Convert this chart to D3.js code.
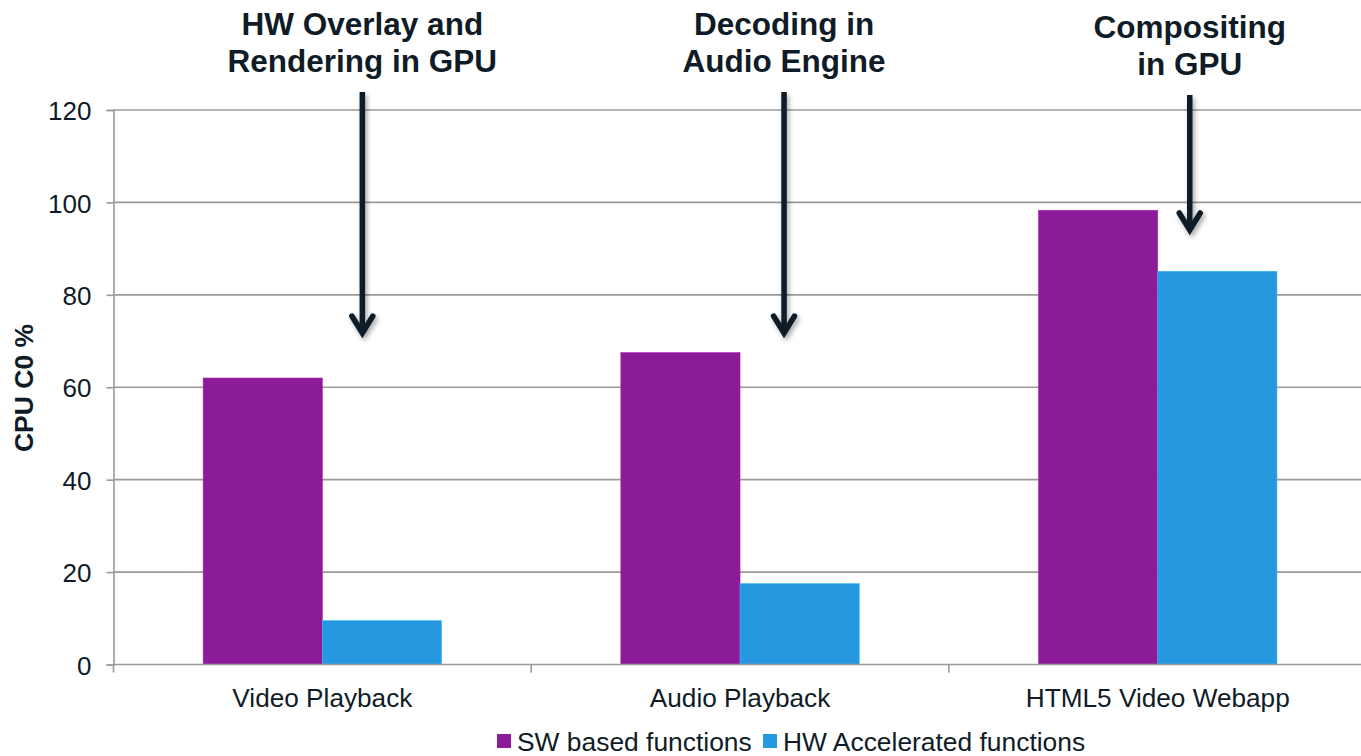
<!DOCTYPE html>
<html>
<head>
<meta charset="utf-8">
<script src="https://cdn.jsdelivr.net/npm/d3@7"></script>
<style>
  html, body { margin: 0; padding: 0; background: #fff; }
  svg { display: block; font-family: Arial, "Liberation Sans", sans-serif; }
</style>
</head>
<body>
<svg id="chart" width="1361" height="756"></svg>
<script>
// Workload categories and measured CPU C0 residency (%)
const categories = ["Video Playback", "Audio Playback", "HTML5 Video Webapp"];
const seriesNames = ["SW based functions", "HW Accelerated functions"];
const swValues = [62, 67.5, 98.3];
const hwValues = [9.5, 17.5, 85.1];
const seriesColors = ["#8B1B97", "#2698DF"];
const yTicks = [0, 20, 40, 60, 80, 100, 120];

// Callouts: label lines, offset from category centre, arrow tip value
const calloutLines = [
  ["HW Overlay and", "Rendering in GPU"],
  ["Decoding in", "Audio Engine"],
  ["Compositing", "in GPU"]
];
const calloutOffsets = [40, 44, 32];
const calloutTipValues = [71.3, 71.3, 93.6];
const calloutTextTop = [35, 35, 38];

const ink = "#0F1C27";
const gridColor = "#9A9A9A";

const svg = d3.select("#chart");
const plotLeft = 113.5, plotTop = 110, plotBottom = 664.5;
const bandW = 417.7;

const x = d3.scaleBand().domain(categories).range([plotLeft, plotLeft + bandW * 3]).padding(0);
const inner = d3.scaleBand().domain(seriesNames)
  .range([bandW * 0.2146, bandW * (1 - 0.2146)]).padding(0);
const y = d3.scaleLinear().domain([0, 120]).range([plotBottom, plotTop]);

// Horizontal gridlines
svg.append("g").selectAll("line").data(yTicks.filter(d => d > 0)).join("line")
  .attr("x1", plotLeft).attr("x2", 1361)
  .attr("y1", d => y(d)).attr("y2", d => y(d))
  .attr("stroke", gridColor).attr("stroke-width", 1.6);

// Y axis
const yAxis = svg.append("g").attr("transform", `translate(${plotLeft},0)`)
  .call(d3.axisLeft(y).tickValues(yTicks).tickSize(7).tickPadding(15));
yAxis.select(".domain").attr("stroke", gridColor).attr("stroke-width", 1.6);
yAxis.selectAll(".tick line").attr("stroke", gridColor).attr("stroke-width", 1.6);
yAxis.selectAll(".tick text").attr("fill", ink).attr("font-size", 26)
  .attr("font-family", "Arial, 'Liberation Sans', sans-serif").attr("dy", "0.37em");

// Bars
const groups = svg.append("g").selectAll("g").data(categories).join("g")
  .attr("transform", d => `translate(${x(d)},0)`);
groups.selectAll("rect")
  .data((d, i) => [
    { s: seriesNames[0], v: swValues[i], c: seriesColors[0] },
    { s: seriesNames[1], v: hwValues[i], c: seriesColors[1] }
  ])
  .join("rect")
  .attr("x", d => inner(d.s))
  .attr("width", inner.bandwidth())
  .attr("y", d => y(d.v))
  .attr("height", d => y(0) - y(d.v))
  .attr("fill", d => d.c)
  .attr("stroke", d => d3.color(d.c).brighter(0.6))
  .attr("stroke-width", 0.6);

// X axis
const xAxis = svg.append("g").attr("transform", `translate(0,${plotBottom})`)
  .call(d3.axisBottom(x).tickSize(0).tickPadding(0));
xAxis.select(".domain").remove();
xAxis.append("line").attr("x1", plotLeft).attr("x2", 1361).attr("y1", 0).attr("y2", 0)
  .attr("stroke", gridColor).attr("stroke-width", 1.6);
// category boundary ticks
xAxis.selectAll(".bound").data(d3.range(4)).join("line").attr("class", "bound")
  .attr("x1", i => plotLeft + i * bandW).attr("x2", i => plotLeft + i * bandW)
  .attr("y1", 0).attr("y2", 8)
  .attr("stroke", gridColor).attr("stroke-width", 1.6);
xAxis.selectAll(".tick text").attr("fill", ink).attr("font-size", 26.2)
  .attr("font-family", "Arial, 'Liberation Sans', sans-serif")
  .attr("y", 42).attr("dy", 0);

// Y axis title
svg.append("text")
  .attr("transform", `translate(33,388) rotate(-90)`)
  .attr("text-anchor", "middle")
  .attr("font-size", 26.5).attr("font-weight", "bold").attr("fill", ink)
  .text("CPU C0 %");

// Legend
const legend = svg.append("g");
const legendX = [497, 763];
seriesNames.forEach((name, i) => {
  legend.append("rect").attr("x", legendX[i]).attr("y", 734).attr("width", 14).attr("height", 14)
    .attr("fill", seriesColors[i]);
  legend.append("text").attr("x", legendX[i] + 20).attr("y", 751)
    .attr("font-size", 26.4).attr("fill", ink).text(name);
});

// Callout arrows with soft shadow
const defs = svg.append("defs");
const f = defs.append("filter").attr("id", "shadow").attr("x", "-50%").attr("y", "-10%")
  .attr("width", "200%").attr("height", "130%");
f.append("feDropShadow").attr("dx", 2).attr("dy", 3).attr("stdDeviation", 2.5)
  .attr("flood-color", "#000").attr("flood-opacity", 0.35);

categories.forEach((c, i) => {
  const cx = x(c) + x.bandwidth() / 2 + calloutOffsets[i];
  const tipY = y(calloutTipValues[i]);
  const startY = calloutTextTop[i] + 57;
  const g = svg.append("g").attr("filter", "url(#shadow)");
  g.append("line").attr("x1", cx).attr("x2", cx).attr("y1", startY).attr("y2", tipY - 2)
    .attr("stroke", ink).attr("stroke-width", 5.5);
  g.append("path")
    .attr("d", `M${cx - 10.5},${tipY - 19} L${cx},${tipY - 2} L${cx + 10.5},${tipY - 19}`)
    .attr("fill", "none").attr("stroke", ink).attr("stroke-width", 5.5)
    .attr("stroke-linecap", "round").attr("stroke-linejoin", "miter");

  const t = svg.append("text").attr("text-anchor", "middle")
    .attr("font-size", 31.5).attr("font-weight", "bold").attr("fill", ink);
  calloutLines[i].forEach((line, j) => {
    t.append("tspan").attr("x", cx).attr("y", calloutTextTop[i] + j * 37).text(line);
  });
});
</script>
</body>
</html>
